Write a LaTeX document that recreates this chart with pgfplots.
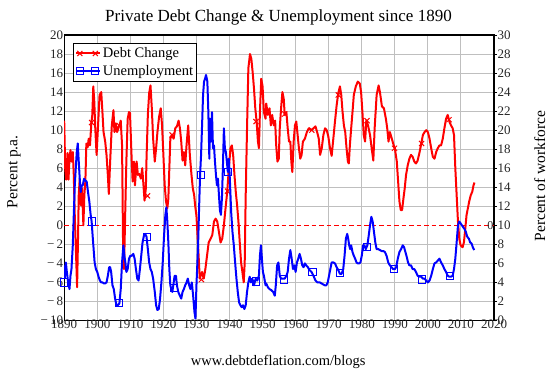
\documentclass[border=0pt]{standalone}
\usepackage{pgfplots}
\pgfplotsset{compat=1.18}
\usepackage{fontspec}
\setmainfont{Liberation Serif}
\begin{document}
\begin{tikzpicture}
\path[use as bounding box] (-64.2bp,-50.5bp) rectangle (489.8bp,320.5bp);
\begin{axis}[
  scale only axis, width=429.8bp, height=285.5bp,
  xmin=1890, xmax=2020, ymin=-10, ymax=20,
  xtick={1890,1900,...,2020},
  xticklabels={1890,1900,1910,1920,1930,1940,1950,1960,1970,1980,1990,2000,2010,2020},
  ytick={-10,-8,-6,-4,-2,2,4,...,20},
  extra y ticks={0}, extra y tick labels={0},
  extra y tick style={grid=none},
  yticklabels={{−\,10},{−\,8},{−\,6},{−\,4},{−\,2},2,4,6,8,10,12,14,16,18,20},
  grid=major, grid style={color=black!25, line width=0.9bp},
  major tick length=0pt,
  axis line style={line width=1.2bp},
  tick label style={font=\fontsize{13bp}{15bp}\selectfont, text=black!85},
  xticklabel style={inner sep=0pt, yshift=1bp},
  yticklabel style={inner sep=0.8bp},
]
\addplot[red, line width=2bp, line join=round, forget plot] coordinates {
(1890.0,11.0)(1890.3,6.0)(1890.6,4.8)(1891.0,7.6)(1891.3,4.8)(1891.6,7.0)(1891.9,7.9)(1892.2,6.7)(1892.6,7.7)(1892.9,5.3)
(1893.2,1.0)(1893.6,-3.2)(1893.9,-6.5)(1894.2,-1.0)(1894.4,3.2)(1894.7,4.9)(1894.9,3.0)(1895.1,2.1)(1895.4,3.9)(1895.8,0.0)
(1896.1,3.2)(1896.4,4.6)(1896.7,8.6)(1897.1,8.2)(1897.4,9.1)(1897.8,8.4)(1898.2,10.7)(1898.5,11.6)(1898.8,14.6)(1899.1,13.0)
(1899.4,10.2)(1899.8,7.4)(1900.2,10.2)(1900.7,13.7)(1901.2,14.0)(1901.5,12.3)(1901.9,9.8)(1902.4,8.8)(1902.8,7.4)(1903.2,5.3)
(1903.5,3.3)(1903.9,6.7)(1904.4,10.5)(1904.9,12.1)(1905.2,9.8)(1905.6,10.7)(1906.0,9.8)(1906.7,10.5)(1907.1,11.0)(1907.5,8.4)
(1907.8,-1.8)(1908.1,-4.6)(1908.4,0.4)(1908.8,6.7)(1909.2,11.2)(1909.6,11.9)(1909.9,11.8)(1910.4,7.0)(1910.7,4.6)(1911.1,6.7)
(1911.4,4.2)(1911.9,6.7)(1912.3,5.3)(1912.7,5.4)(1913.2,4.9)(1913.6,6.0)(1913.9,4.6)(1914.3,2.6)(1914.7,3.9)(1914.9,7.0)
(1915.3,11.6)(1915.7,13.9)(1916.1,14.7)(1916.5,12.3)(1916.9,9.1)(1917.4,6.7)(1917.8,8.1)(1918.2,9.8)(1918.7,11.4)(1919.2,12.3)
(1919.6,10.5)(1920.0,7.4)(1920.4,4.2)(1920.8,2.5)(1921.2,1.8)(1921.5,2.8)(1921.8,6.0)(1922.1,9.1)(1922.6,9.5)(1923.1,9.1)
(1923.6,10.2)(1924.1,10.4)(1924.6,11.0)(1925.0,10.2)(1925.4,8.8)(1925.8,6.8)(1926.2,7.7)(1926.6,6.3)(1927.0,8.4)(1927.5,10.5)
(1928.0,7.4)(1928.5,5.3)(1928.9,3.9)(1929.3,3.2)(1929.6,2.1)(1930.0,1.0)(1930.4,-1.5)(1930.7,-3.5)(1931.0,-5.6)(1931.2,-5.4)
(1931.7,-4.9)(1932.2,-5.6)(1932.7,-4.6)(1933.2,-3.2)(1933.7,-1.8)(1934.3,-1.4)(1934.8,-1.0)(1935.3,0.4)(1935.8,0.7)(1936.3,0.4)
(1936.8,-0.7)(1937.3,-1.8)(1937.8,-1.4)(1938.3,0.0)(1938.8,1.8)(1939.3,3.5)(1939.8,6.0)(1940.3,8.1)(1940.7,8.4)(1941.1,7.4)
(1941.5,5.3)(1941.9,3.5)(1942.3,2.1)(1942.7,0.4)(1943.1,-1.8)(1943.5,-3.9)(1943.9,-4.9)(1944.3,-6.0)(1944.6,-3.9)(1944.9,3.2)
(1945.3,10.2)(1945.7,16.5)(1946.2,18.0)(1946.6,17.5)(1947.0,16.1)(1947.4,14.4)(1947.8,12.3)(1948.2,10.9)(1948.6,8.8)(1948.9,8.1)
(1949.2,11.9)(1949.6,15.4)(1950.0,14.6)(1950.4,11.9)(1950.9,11.2)(1951.1,12.8)(1951.6,11.6)(1952.1,12.3)(1952.5,10.5)(1952.9,11.6)
(1953.4,10.5)(1953.8,11.0)(1954.1,8.5)(1954.5,6.7)(1954.9,7.0)(1955.2,10.2)(1955.6,12.3)(1956.0,14.0)(1956.4,13.3)(1956.7,11.6)
(1957.2,11.9)(1957.6,10.2)(1958.0,8.8)(1958.4,8.8)(1958.7,6.7)(1959.0,5.6)(1959.4,8.8)(1959.8,10.5)(1960.2,10.9)(1960.6,9.5)
(1961.0,8.1)(1961.4,7.0)(1961.8,7.4)(1962.2,8.8)(1962.8,9.1)(1963.4,9.8)(1964.0,10.2)(1964.7,10.0)(1965.4,10.2)(1966.0,10.4)
(1966.5,9.8)(1967.0,9.1)(1967.4,7.4)(1967.9,8.1)(1968.4,9.5)(1968.9,10.2)(1969.4,10.0)(1969.9,9.3)(1970.4,8.1)(1970.9,7.3)
(1971.4,9.1)(1971.9,10.9)(1972.4,12.6)(1972.9,13.9)(1973.4,14.6)(1973.8,13.7)(1974.2,11.9)(1974.6,10.5)(1975.0,9.8)(1975.4,8.1)
(1975.8,6.7)(1976.1,6.5)(1976.4,8.4)(1976.8,10.2)(1977.2,11.9)(1977.6,13.7)(1978.2,14.6)(1978.8,15.1)(1979.4,14.9)(1979.8,14.0)
(1980.2,11.9)(1980.6,9.5)(1981.0,8.8)(1981.4,11.0)(1981.9,10.5)(1982.5,9.5)(1983.0,8.1)(1983.5,6.8)(1983.9,10.2)(1984.5,13.7)
(1985.1,14.7)(1985.5,14.0)(1986.1,12.5)(1986.7,12.3)(1987.3,11.2)(1987.7,10.2)(1988.1,8.8)(1988.5,9.8)(1989.1,9.1)(1989.5,8.6)
(1990.0,8.1)(1990.6,6.7)(1991.0,4.6)(1991.4,2.5)(1991.8,1.6)(1992.2,1.6)(1992.6,2.8)(1993.0,3.9)(1993.4,5.3)(1993.9,6.3)
(1994.4,7.0)(1994.9,7.4)(1995.4,7.2)(1995.9,6.7)(1996.4,6.5)(1996.9,6.8)(1997.5,7.7)(1998.0,8.6)(1998.5,9.5)(1999.0,9.8)
(1999.5,10.0)(2000.0,9.8)(2000.5,9.1)(2001.0,8.1)(2001.5,7.2)(2002.0,7.0)(2002.5,7.7)(2003.0,8.1)(2003.5,8.4)(2004.0,8.4)
(2004.5,9.1)(2005.0,10.2)(2005.5,11.2)(2006.0,11.6)(2006.5,10.9)(2007.0,10.5)(2007.5,10.2)(2007.9,9.5)(2008.3,6.0)(2008.7,3.2)
(2009.1,0.4)(2009.5,-1.4)(2009.9,-2.1)(2010.5,-2.3)(2010.9,-1.8)(2011.3,-0.4)(2011.7,1.1)(2012.1,1.8)(2012.5,2.5)(2013.0,3.2)
(2013.4,3.5)(2013.8,4.2)(2014.1,4.5)
};
\addplot[only marks, red, mark=x, mark size=3.6bp, mark options={line width=1bp}, forget plot] coordinates {
(1898.3,10.8)(1906.6,10.5)(1915.2,3.1)(1922.6,9.5)(1931.5,-5.7)(1939.4,3.6)(1948.0,10.9)(1956.7,11.7)
(1964.9,10.0)(1972.9,13.7)(1981.6,11.0)(1989.9,8.1)(1998.1,8.6)(2006.4,11.1)
};
\end{axis}
\begin{axis}[
  scale only axis, width=429.8bp, height=285.5bp,
  xmin=1890, xmax=2020, ymin=0, ymax=30,
  clip mode=individual,
  axis x line=none, axis y line*=right,
  ytick={0,2,...,30},
  yticklabels={0,2,4,6,8,10,12,14,16,18,20,22,24,26,28,30},
  ytick align=outside, major tick length=3bp,
  tick style={line width=0.8bp, black},
  axis line style={line width=1.2bp},
  tick label style={font=\fontsize{13bp}{15bp}\selectfont, text=black!85},
  yticklabel style={inner sep=0.3bp},
  legend style={at={(0.021,0.972)}, anchor=north west, draw=black, line width=1.2bp,
    fill=white, font=\fontsize{14.5bp}{16bp}\selectfont, inner xsep=1.5bp, inner ysep=2.5bp,
    row sep=3bp, cells={anchor=west}, nodes={inner sep=1.6bp}},
  legend cell align=left,
  legend image code/.code={\draw[#1,mark=none] (0bp,0bp) -- (24bp,0bp); \draw[#1] plot coordinates {(3.5bp,0bp) (19bp,0bp)};},
]
\addplot[red, line width=1.3bp, dash pattern=on 4.5bp off 3bp, forget plot] coordinates {(1890,10) (2020,10)};
\addplot[blue, line width=2bp, line join=round, forget plot] coordinates {
(1890.0,5.8)(1890.2,4.5)(1890.5,6.1)(1890.8,5.1)(1891.2,4.0)(1891.6,3.3)(1891.9,4.7)(1892.2,5.4)(1892.6,7.9)(1892.9,11.1)
(1893.2,14.2)(1893.5,16.0)(1893.8,17.7)(1894.1,18.6)(1894.4,16.7)(1894.7,14.9)(1895.0,13.5)(1895.3,14.2)(1895.6,14.2)(1896.0,14.9)
(1896.4,14.7)(1896.8,14.6)(1897.2,13.5)(1897.6,12.5)(1898.0,11.1)(1898.3,10.4)(1898.6,8.9)(1898.9,7.5)(1899.2,6.1)(1899.6,5.4)
(1900.0,5.1)(1900.4,4.6)(1900.8,4.2)(1901.2,4.0)(1901.6,4.0)(1902.0,3.9)(1902.4,3.9)(1902.8,4.0)(1903.2,4.7)(1903.6,5.6)
(1903.9,5.6)(1904.2,5.1)(1904.6,3.7)(1905.0,3.3)(1905.4,2.3)(1905.8,1.6)(1906.2,1.6)(1906.7,1.8)(1907.1,3.3)(1907.5,6.1)
(1907.9,7.9)(1908.2,6.8)(1908.5,6.1)(1908.8,5.1)(1909.2,5.4)(1909.6,6.5)(1910.0,6.8)(1910.4,6.8)(1910.9,7.0)(1911.3,6.5)
(1911.7,5.4)(1912.1,4.4)(1912.5,4.2)(1912.9,5.4)(1913.3,6.8)(1913.7,8.2)(1914.1,8.9)(1914.5,9.1)(1914.9,8.8)(1915.3,7.5)
(1915.7,6.1)(1916.1,5.4)(1916.5,5.1)(1916.9,4.4)(1917.4,3.0)(1917.8,1.6)(1918.2,1.1)(1918.6,1.2)(1919.0,2.3)(1919.4,4.0)
(1919.8,6.1)(1920.2,8.9)(1920.6,11.1)(1920.9,11.9)(1921.2,10.4)(1921.5,8.2)(1921.8,5.4)(1922.1,3.7)(1922.4,3.3)(1922.7,3.0)
(1923.0,3.7)(1923.4,4.7)(1923.8,4.7)(1924.1,3.7)(1924.5,3.0)(1925.0,2.6)(1925.4,2.3)(1925.8,3.0)(1926.2,3.3)(1926.6,3.7)
(1927.0,4.0)(1927.4,4.4)(1927.8,3.7)(1928.2,3.3)(1928.6,4.0)(1929.0,2.6)(1929.4,0.9)(1929.7,0.2)(1930.0,3.7)(1930.5,7.9)
(1930.8,11.8)(1931.1,15.3)(1931.4,17.4)(1931.7,20.5)(1932.0,23.7)(1932.3,25.1)(1932.6,25.4)(1932.9,25.8)(1933.3,25.1)(1933.6,21.9)
(1933.9,17.0)(1934.1,21.2)(1934.4,18.8)(1934.7,21.9)(1935.0,18.1)(1935.3,18.4)(1935.6,16.7)(1935.9,15.3)(1936.2,14.2)(1936.5,14.9)
(1936.8,13.2)(1937.1,11.6)(1937.4,11.1)(1937.7,12.8)(1938.0,16.0)(1938.3,20.2)(1938.6,18.1)(1938.9,17.7)(1939.2,16.7)(1939.5,15.6)
(1939.8,17.0)(1940.1,14.9)(1940.5,11.4)(1940.9,9.3)(1941.3,7.9)(1941.7,6.1)(1942.1,4.4)(1942.5,3.0)(1942.9,1.9)(1943.3,1.6)
(1943.7,1.4)(1944.1,1.6)(1944.5,1.2)(1944.9,1.6)(1945.3,3.0)(1945.7,4.0)(1946.1,4.6)(1946.5,4.0)(1946.9,4.4)(1947.4,3.7)
(1947.9,4.4)(1948.4,4.2)(1948.9,4.7)(1949.2,6.8)(1949.5,7.9)(1949.8,6.5)(1950.1,5.1)(1950.4,4.7)(1950.9,3.7)(1951.1,3.9)
(1951.6,3.5)(1952.1,3.3)(1952.6,3.2)(1953.2,3.0)(1953.7,2.6)(1954.0,3.7)(1954.4,5.8)(1954.8,6.1)(1955.2,4.7)(1955.6,4.4)
(1956.2,4.4)(1956.7,4.4)(1957.2,4.7)(1957.6,5.1)(1958.0,6.5)(1958.4,7.4)(1958.8,6.5)(1959.2,5.4)(1959.6,5.8)(1960.0,5.1)
(1960.4,6.1)(1960.8,6.5)(1961.2,7.0)(1961.6,6.5)(1962.0,5.8)(1962.4,5.6)(1962.8,6.0)(1963.2,5.8)(1963.7,5.6)(1964.2,5.3)
(1964.8,5.1)(1965.4,4.7)(1966.0,4.2)(1966.6,4.0)(1967.3,4.0)(1967.8,3.9)(1968.3,3.8)(1968.8,3.7)(1969.3,3.7)(1969.7,4.0)
(1970.1,4.7)(1970.5,5.4)(1970.9,6.1)(1971.4,6.1)(1971.9,6.0)(1972.4,5.6)(1972.9,5.3)(1973.4,4.9)(1973.9,4.9)(1974.4,5.4)
(1974.8,6.8)(1975.2,8.6)(1975.6,9.1)(1975.9,8.6)(1976.2,7.9)(1976.5,7.5)(1976.8,7.9)(1977.2,7.2)(1977.6,6.8)(1978.0,6.5)
(1978.4,6.1)(1978.8,6.0)(1979.2,6.0)(1979.6,6.1)(1980.0,6.8)(1980.4,7.9)(1980.8,7.9)(1981.2,7.5)(1981.7,7.9)(1982.1,8.9)
(1982.5,10.0)(1982.9,10.9)(1983.3,10.4)(1983.7,9.3)(1984.1,8.2)(1984.5,7.5)(1985.0,7.5)(1985.5,7.4)(1986.0,7.3)(1986.5,7.3)
(1987.0,7.2)(1987.5,6.8)(1988.0,6.1)(1988.5,5.8)(1989.0,5.6)(1989.5,5.4)(1990.0,5.4)(1990.4,5.6)(1990.9,6.5)(1991.4,7.2)
(1991.9,7.5)(1992.4,7.9)(1992.8,7.7)(1993.2,7.2)(1993.6,6.7)(1994.0,6.1)(1994.4,5.8)(1994.9,5.8)(1995.4,5.4)(1995.9,5.4)
(1996.4,5.1)(1996.9,4.7)(1997.5,4.6)(1998.0,4.6)(1998.5,4.4)(1999.0,4.4)(1999.5,4.2)(2000.0,4.0)(2000.5,4.2)(2001.0,4.7)
(2001.5,5.4)(2002.0,6.0)(2002.5,6.1)(2003.0,6.3)(2003.5,6.5)(2004.0,6.1)(2004.5,5.8)(2005.0,5.4)(2005.5,5.1)(2006.0,4.7)
(2006.5,4.6)(2007.0,4.6)(2007.5,4.7)(2007.9,5.4)(2008.3,6.5)(2008.7,8.2)(2009.1,10.0)(2009.5,10.4)(2009.9,10.2)(2010.3,10.0)
(2010.7,9.8)(2011.1,9.6)(2011.5,9.3)(2011.9,8.8)(2012.4,8.6)(2012.8,8.2)(2013.2,8.1)(2013.6,7.7)(2014.0,7.4)
};
\addplot[only marks, blue, mark=square, mark size=3.6bp, mark options={line width=1bp}, forget plot] coordinates {
(1890.0,4.0)(1898.4,10.4)(1906.6,1.8)(1915.0,8.8)(1923.2,3.4)(1931.3,15.3)(1939.6,15.6)(1947.9,4.1)
(1956.5,4.3)(1965.1,5.1)(1973.3,5.0)(1981.6,7.7)(1989.7,5.4)(1998.3,4.3)(2006.6,4.7)
};
\addlegendimage{red, line width=2bp, mark=x, mark size=3.6bp, mark options={line width=1bp}}
\addlegendentry{Debt Change}
\addlegendimage{blue, line width=2bp, mark=square, mark size=3.6bp, mark options={line width=1bp}}
\addlegendentry{Unemployment}
\node[anchor=east, inner sep=0.5bp, font=\fontsize{12bp}{14bp}\selectfont, text=black!85] at (axis cs:2020,10) {0};
\node[anchor=base, font=\fontsize{17bp}{20bp}\selectfont] at (axis description cs:0.4985,1.0466) {Private Debt Change \& Unemployment since 1890};
\node[rotate=90, anchor=center, font=\fontsize{15.5bp}{18bp}\selectfont] at (axis description cs:-0.1167,0.521) {Percent p.a.};
\node[rotate=90, anchor=center, font=\fontsize{15.5bp}{18bp}\selectfont] at (axis description cs:1.1065,0.506) {Percent of workforce};
\node[anchor=base, font=\fontsize{14.5bp}{17bp}\selectfont] at (axis description cs:0.498,-0.156) {www.debtdeflation.com/blogs};
\end{axis}
\end{tikzpicture}
\end{document}
